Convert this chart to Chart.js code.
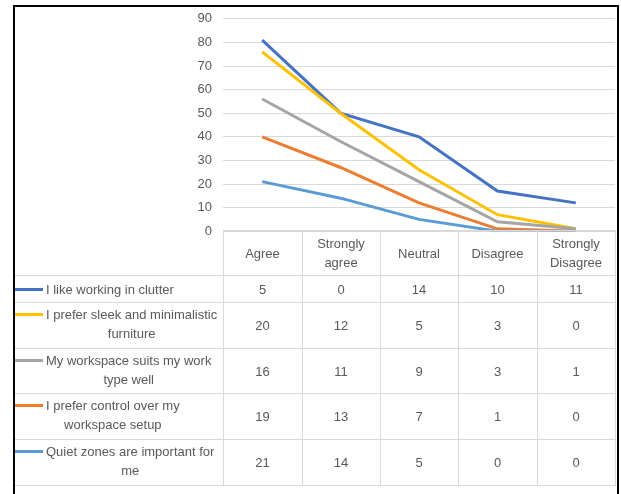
<!DOCTYPE html>
<html>
<head>
<meta charset="utf-8">
<script src="https://cdn.jsdelivr.net/npm/chart.js@4"></script>
<style>
  body { margin: 0; background: #fff; width: 621px; height: 494px; position: relative; overflow: hidden;
         font-family: "Liberation Sans Narrow", "Liberation Sans", sans-serif; color: #595959; }
  #frame { position: absolute; left: 13px; top: 5px; width: 602px; height: 500px; z-index: 5;
           border: 2px solid #000; border-bottom: none; }
  #chartBox { position: absolute; left: 14px; top: 0px; width: 601px; height: 250px; }
  #dataTable { position: absolute; left: 14px; top: 230px; border-collapse: collapse; table-layout: fixed;
               font-size: 13px; }
  #dataTable td { border: 1px solid #D9D9D9; text-align: center; vertical-align: middle; padding: 0;
                  line-height: 19px; }
  #dataTable td.blank { border-top: none; border-left: none; }
  #dataTable td.name { border-left: none; text-align: left; vertical-align: top; }
  .nameWrap { display: flex; align-items: flex-start; }
  .key { width: 29px; height: 3px; margin-right: 3px; flex: none; }
  .nameText { text-align: center; }
</style>
</head>
<body>
<div id="frame"></div>
<div id="chartBox"><canvas id="chart"></canvas></div>
<table id="dataTable"></table>
<script>
const categories = ["Agree", "Strongly agree", "Neutral", "Disagree", "Strongly Disagree"];
const headerLines = [["Agree"], ["Strongly", "agree"], ["Neutral"], ["Disagree"], ["Strongly", "Disagree"]];
const yTicks = [0, 10, 20, 30, 40, 50, 60, 70, 80, 90];

const clutter = [5, 0, 14, 10, 11];
const sleek = [20, 12, 5, 3, 0];
const workspace = [16, 11, 9, 3, 1];
const control = [19, 13, 7, 1, 0];
const quiet = [21, 14, 5, 0, 0];

// table order (top to bottom), as in the data table
const series = [
  { name: ["I like working in clutter"], data: clutter, color: "#4472C4" },
  { name: ["I prefer sleek and minimalistic", "furniture"], data: sleek, color: "#FFC000" },
  { name: ["My workspace suits my work", "type well"], data: workspace, color: "#A5A5A5" },
  { name: ["I prefer control over my", "workspace setup"], data: control, color: "#ED7D31" },
  { name: ["Quiet zones are important for", "me"], data: quiet, color: "#5B9BD5" }
];

const colWidths = [209, 79, 78, 78, 79, 78];
const rowHeights = [45, 27, 46, 45, 46, 46];

// stacked: bottom series first
const stackOrder = [...series].reverse();

new Chart(document.getElementById("chart"), {
  type: "line",
  data: {
    labels: categories,
    datasets: stackOrder.map(s => ({
      label: s.name.join(" "),
      data: s.data,
      borderColor: s.color,
      backgroundColor: s.color,
      borderWidth: 3,
      pointRadius: 0,
      fill: false,
      tension: 0
    }))
  },
  options: {
    responsive: true,
    maintainAspectRatio: false,
    animation: false,
    layout: { padding: { top: 9, bottom: 0, left: 0, right: 0 } },
    plugins: { legend: { display: false }, tooltip: { enabled: false } },
    scales: {
      x: { display: false, offset: true },
      y: {
        stacked: true,
        min: 0,
        max: 90,
        afterBuildTicks: axis => { axis.ticks = yTicks.map(v => ({ value: v })); },
        afterFit: axis => { axis.width = 209; },
        border: { display: false },
        grid: { color: "#D9D9D9", drawTicks: false, lineWidth: 1 },
        ticks: { color: "#595959", padding: 11, font: { family: "Liberation Sans Narrow, Liberation Sans", size: 13 } }
      }
    }
  }
});

function buildTable() {
  const table = document.getElementById("dataTable");
  let html = "<colgroup>" + colWidths.map(w => `<col style="width:${w}px">`).join("") + "</colgroup>";
  html += `<tr style="height:${rowHeights[0]}px"><td class="blank"></td>` +
    headerLines.map(l => `<td>${l.join("<br>")}</td>`).join("") + "</tr>";
  series.forEach((s, i) => {
    const pad = s.name.length === 1 ? 4 : 2;
    html += `<tr style="height:${rowHeights[i + 1]}px">` +
      `<td class="name"><div class="nameWrap" style="padding-top:${pad}px">` +
      `<span class="key" style="background:${s.color};margin-top:8px"></span>` +
      `<span class="nameText">${s.name.join("<br>")}</span></div></td>` +
      s.data.map(v => `<td>${v}</td>`).join("") + "</tr>";
  });
  table.innerHTML = html;
}
buildTable();
</script>
</body>
</html>
